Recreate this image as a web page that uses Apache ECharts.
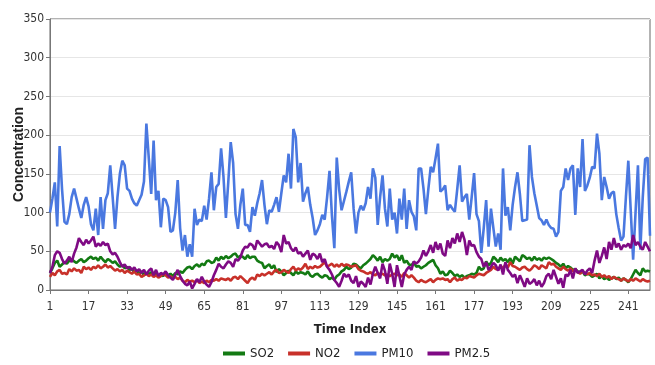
<!DOCTYPE html>
<html>
<head>
<meta charset="utf-8">
<script src="https://cdn.jsdelivr.net/npm/echarts@6/dist/echarts.min.js"></script>
<style>
  html, body { margin: 0; padding: 0; background: #fff; }
  #chart { width: 655px; height: 365px; }
</style>
</head>
<body>
<div id="chart"></div>
<script>
// Daily pollutant concentrations, 250 time steps
const timeIndex = Array.from({ length: 250 }, (_, i) => String(i + 1));

const so2 = [
  22, 28, 35, 38, 30, 33, 36, 34, 38, 40,
  37, 35, 38, 40, 36, 38, 41, 43, 40, 42,
  38, 43, 39, 36, 40, 38, 35, 37, 33, 30,
  32, 28, 30, 26, 27, 23, 25, 21, 24, 19,
  22, 20, 23, 19, 21, 17, 20, 18, 22, 19,
  21, 18, 22, 20, 24, 22, 26, 29, 30, 27,
  31, 33, 30, 34, 32, 37, 38, 35, 36, 42,
  38, 43, 40, 44, 41, 43, 46, 47, 42, 44,
  43, 40, 45, 41, 43, 43, 38, 36, 35, 28,
  31, 33, 28, 32, 23, 27, 24, 19, 22, 25,
  22, 19, 24, 21, 23, 22, 20, 24, 19, 17,
  20, 21, 18, 16, 19, 18, 14, 16, 13, 18,
  20, 24, 26, 30, 27, 29, 34, 33, 30, 28,
  32, 34, 37, 40, 45, 42, 38, 43, 36, 40,
  38, 40, 47, 42, 45, 38, 45, 35, 38, 33,
  32, 36, 30, 31, 28, 30, 32, 35, 37, 39,
  32, 28, 21, 24, 19, 20, 25, 22, 18, 20,
  17, 19, 16, 18, 19, 21, 20, 22, 30, 26,
  28, 37, 32, 35, 43, 40, 36, 42, 38, 40,
  36, 41, 34, 43, 40, 37, 45, 43, 40, 42,
  38, 43, 39, 41, 38, 42, 40, 42, 40, 38,
  35, 33, 30, 34, 28, 31, 29, 26, 27, 24,
  22, 24, 19, 21, 20, 17, 19, 21, 15, 18,
  14, 16, 13, 15, 17, 14, 16, 12, 15, 13,
  10, 14, 20, 26, 22, 19, 28, 24, 25, 24
];

const no2 = [
  17, 22, 19, 24, 26, 21, 22, 20, 27, 24,
  28, 25, 26, 22, 30, 27, 29, 26, 30, 28,
  32, 28, 30, 33, 29, 31, 28, 25, 27, 24,
  26, 22, 25, 23, 21, 24, 20, 21, 17, 19,
  21, 18, 20, 17, 19, 16, 18, 21, 19, 16,
  18, 15, 17, 14, 16, 12, 10, 13, 11, 12,
  10, 13, 9, 11, 9, 12, 10, 13, 12, 14,
  12, 15, 14, 13, 15, 12, 16, 17, 14, 18,
  15, 12, 9, 14, 16, 13, 20, 18, 21, 19,
  21, 23, 20, 24, 26, 22, 23, 26, 24, 22,
  27, 30, 25, 28, 26, 29, 34, 27, 30, 28,
  31, 29, 30, 33, 36, 30, 32, 34, 30, 33,
  30, 34, 31, 33, 32, 30, 31, 32, 27, 25,
  24, 22, 21, 23, 20, 19, 22, 20, 21, 19,
  20, 18, 20, 21, 19, 20, 17, 22, 19, 16,
  19, 16, 12, 10, 13, 11, 10, 12, 14, 10,
  13, 15, 14, 15, 13, 14, 10, 14, 16, 12,
  14, 13, 16, 15, 18, 17, 16, 19, 21, 20,
  19, 22, 24, 26, 30, 27, 26, 31, 28, 33,
  29, 36, 31, 30, 28, 26, 29, 30, 27, 25,
  28, 32, 30, 27, 32, 30, 28, 36, 33, 34,
  30, 28, 26, 30, 27, 25, 28, 24, 27, 23,
  21, 24, 22, 20, 22, 19, 20, 18, 21, 17,
  19, 16, 18, 14, 17, 15, 14, 12, 15, 13,
  11, 14, 12, 15, 13, 11, 14, 12, 11, 12
];

const pm10 = [
  100, 118, 139, 82, 186, 130, 88, 85, 98, 120,
  131, 118, 105, 93, 110, 120, 108, 85, 77, 105,
  71, 120, 79, 116, 125, 161, 120, 79, 120, 150,
  167, 161, 131, 128, 118, 112, 109, 116, 123, 140,
  215, 170, 124, 193, 116, 128, 81, 118, 116, 107,
  75, 77, 100, 142, 80, 51, 71, 43, 59, 43,
  105, 84, 91, 89, 109, 91, 118, 152, 103, 133,
  137, 183, 146, 93, 140, 191, 164, 98, 79, 110,
  131, 84, 84, 75, 107, 96, 112, 125, 142, 110,
  85, 103, 101, 110, 120, 101, 125, 148, 139, 176,
  131, 208, 197, 139, 164, 114, 125, 133, 110, 93,
  71, 77, 85, 97, 91, 120, 154, 96, 54, 171,
  130, 103, 115, 127, 140, 152, 105, 73, 100, 109,
  103, 112, 133, 118, 157, 145, 84, 120, 148, 105,
  82, 131, 91, 100, 73, 118, 91, 131, 79, 116,
  101, 95, 77, 157, 157, 131, 98, 130, 159, 152,
  170, 189, 127, 130, 135, 103, 110, 105, 101, 130,
  161, 114, 120, 124, 91, 120, 151, 98, 89, 48,
  80, 116, 56, 105, 80, 56, 73, 52, 157, 96,
  107, 77, 110, 133, 152, 124, 89, 90, 91, 187,
  146, 125, 109, 93, 90, 84, 91, 84, 80, 79,
  69, 75, 128, 133, 157, 142, 157, 161, 97, 157,
  133, 195, 128, 135, 145, 159, 157, 202, 176, 116,
  146, 133, 118, 125, 127, 98, 80, 64, 69, 120,
  167, 103, 39, 100, 161, 52, 120, 169, 171, 70
];

const pm25 = [
  22, 30, 45, 50, 48, 40, 34, 38, 43, 36,
  47, 55, 67, 62, 58, 65, 60, 64, 69, 56,
  60, 57, 62, 58, 60, 50, 46, 48, 43, 36,
  30, 33, 28, 30, 26, 29, 24, 27, 22, 26,
  20, 25, 28, 19, 26, 18, 22, 20, 24, 19,
  16, 13, 20, 26, 18, 12, 8, 6, 11, 2,
  8, 14, 10, 17, 11, 7, 4, 10, 19, 26,
  34, 30, 28, 33, 37, 35, 30, 40, 38, 42,
  51, 56, 55, 60, 58, 52, 64, 60, 56, 59,
  60, 55, 57, 53, 62, 58, 49, 71, 60, 62,
  54, 50, 55, 47, 49, 43, 47, 51, 39, 47,
  45, 40, 47, 36, 40, 30, 26, 20, 13, 9,
  4, 12, 21, 17, 20, 12, 9, 18, 4, 11,
  8, 4, 16, 7, 21, 30, 22, 15, 34, 25,
  8, 34, 21, 4, 32, 18, 4, 20, 26, 30,
  26, 37, 34, 37, 42, 51, 44, 50, 58, 48,
  62, 52, 60, 47, 44, 64, 54, 67, 60, 73,
  62, 75, 65, 45, 64, 57, 58, 49, 43, 40,
  30, 36, 26, 30, 35, 32, 25, 33, 20, 36,
  26, 22, 17, 20, 9, 19, 12, 4, 15, 8,
  10, 14, 6, 12, 4, 9, 18, 21, 14, 26,
  17, 8, 15, 3, 20, 18, 26, 15, 28, 22,
  24, 26, 20, 25, 28, 22, 38, 51, 35, 44,
  55, 40, 62, 52, 67, 55, 60, 52, 58, 56,
  60, 54, 71, 58, 62, 56, 52, 62, 56, 50
];

const seriesNames = ['SO2', 'NO2', 'PM10', 'PM2.5'];
const seriesColors = ['#137a13', '#c8312a', '#4a78e0', '#7f0a84'];
const seriesData = [so2, no2, pm10, pm25];

const labelFont = '"Liberation Sans Narrow", "DejaVu Sans Condensed", "Liberation Sans", sans-serif';

const chart = echarts.init(document.getElementById('chart'), null, { renderer: 'canvas' });

chart.setOption({
  animation: false,
  backgroundColor: '#ffffff',
  grid: {
    left: 50, right: 5, top: 19, bottom: 75,
    show: true, borderColor: '#666', borderWidth: 1
  },
  legend: {
    bottom: 0,
    left: 218,
    itemWidth: 22,
    itemHeight: 4,
    itemGap: 14,
    icon: 'rect',
    textStyle: { fontFamily: labelFont, fontSize: 13, color: '#222' },
    data: seriesNames
  },
  xAxis: {
    type: 'category',
    data: timeIndex,
    boundaryGap: false,
    name: 'Time Index',
    nameLocation: 'middle',
    nameGap: 33,
    nameTextStyle: { fontFamily: labelFont, fontWeight: 'bold', fontSize: 13, color: '#222' },
    axisLine: { lineStyle: { color: '#777' } },
    axisTick: { show: true, interval: 15, alignWithLabel: true, length: 4, lineStyle: { color: '#777' } },
    axisLabel: { interval: 15, fontFamily: labelFont, fontSize: 12, color: '#333', margin: 11 },
    splitLine: { show: false }
  },
  yAxis: {
    type: 'value',
    min: 0,
    max: 350,
    interval: 50,
    name: 'Concentration',
    nameLocation: 'middle',
    nameGap: 24,
    nameMoveOverlap: false,
    nameRotate: 90,
    nameTextStyle: { fontFamily: '"Liberation Sans", sans-serif', fontWeight: 'bold', fontSize: 14, color: '#222' },
    axisLine: { show: true, lineStyle: { color: '#777' } },
    axisTick: { show: true, length: 4, lineStyle: { color: '#777' } },
    axisLabel: { fontFamily: labelFont, fontSize: 12, color: '#333', margin: 6 },
    splitLine: { show: true, lineStyle: { color: '#e6e6e6', width: 1 } }
  },
  series: seriesNames.map((name, i) => ({
    name: name,
    type: 'line',
    data: seriesData[i],
    showSymbol: false,
    symbol: 'none',
    color: seriesColors[i],
    lineStyle: { width: 2.6, color: seriesColors[i] },
    z: 2 + i
  }))
});
</script>
</body>
</html>
